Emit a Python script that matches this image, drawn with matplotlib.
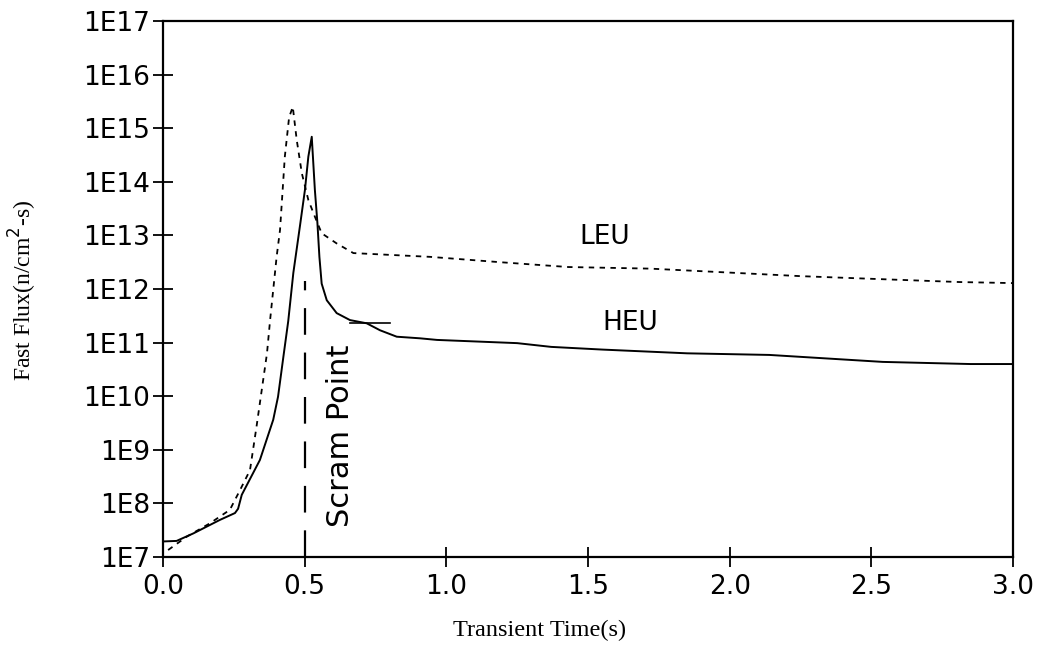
import matplotlib.pyplot as plt
import numpy as np

# LEU (dashed) curve: time (s), log10 flux
leu_t = [0.018, 0.084, 0.166, 0.236, 0.272, 0.307, 0.33, 0.367, 0.378, 0.401, 0.413,
         0.43, 0.445, 0.458, 0.472, 0.49, 0.513, 0.536, 0.56, 0.613, 0.672, 0.942,
         1.19, 1.43, 1.72, 2.25, 2.45, 2.81, 3.0]
leu_log = [7.13, 7.38, 7.63, 7.88, 8.25, 8.62, 9.43, 10.8, 11.42, 12.6, 13.1,
           14.47, 15.2, 15.4, 14.78, 14.16, 13.66, 13.35, 13.04, 12.85, 12.67, 12.6,
           12.5, 12.41, 12.38, 12.24, 12.2, 12.13, 12.11]

# HEU (solid) curve
heu_t = [0.0, 0.048, 0.107, 0.20, 0.254, 0.265, 0.278, 0.342, 0.389, 0.406, 0.425,
         0.442, 0.46, 0.484, 0.501, 0.513, 0.525, 0.536, 0.545, 0.552, 0.56, 0.578,
         0.613, 0.66, 0.719, 0.766, 0.825, 0.907, 0.967, 1.25, 1.37, 1.55, 1.85,
         2.14, 2.54, 2.85, 3.0]
heu_log = [7.29, 7.30, 7.44, 7.69, 7.82, 7.9, 8.16, 8.81, 9.56, 9.99, 10.74,
           11.4, 12.3, 13.2, 13.85, 14.47, 14.84, 13.85, 13.23, 12.6, 12.1, 11.79,
           11.55, 11.42, 11.36, 11.23, 11.11, 11.08, 11.05, 10.99, 10.92, 10.87, 10.8,
           10.77, 10.64, 10.6, 10.6]

# short pointer segment on the HEU curve
ptr_t = [0.66, 0.80]
ptr_log = [11.37, 11.37]

scram_t = 0.5
scram_top_log = 12.15

ytick_exp = list(range(7, 18))
xticks = [0.0, 0.5, 1.0, 1.5, 2.0, 2.5, 3.0]

fig = plt.figure(figsize=(10.45, 6.51), dpi=100)
ax = fig.add_axes([163 / 1045, 1 - 557 / 651, (1013 - 163) / 1045, (557 - 21) / 651])

ax.plot(leu_t, 10 ** np.array(leu_log), color='black', lw=1.3, linestyle=(0, (3, 3)))
ax.plot(heu_t, 10 ** np.array(heu_log), color='black', lw=1.4)
ax.plot(ptr_t, 10 ** np.array(ptr_log), color='black', lw=1.2)
ax.plot([scram_t, scram_t], [1e7, 10 ** scram_top_log], color='black', lw=1.6,
        linestyle=(0, (12, 8)))

ax.set_yscale('log')
ax.set_xlim(0, 3.0)
ax.set_ylim(1e7, 1e17)
ax.set_yticks([10.0 ** e for e in ytick_exp])
ax.set_yticklabels([f'1E{e}' for e in ytick_exp])
ax.yaxis.set_minor_locator(plt.NullLocator())
ax.set_xticks(xticks)
ax.set_xticklabels([f'{x:.1f}' for x in xticks])

ax.tick_params(axis='both', direction='inout', length=14, width=1.3,
               labelsize=19, top=False, right=False)
ax.tick_params(axis='y', pad=2)
ax.tick_params(axis='x', pad=5)
for s in ax.spines.values():
    s.set_linewidth(1.6)

ax.text(0.628, 10 ** 9.26, 'Scram Point', rotation=90, fontsize=22,
        ha='center', va='center')
ax.text(1.56, 10 ** 12.97, 'LEU', fontsize=19, ha='center', va='center')
ax.text(1.65, 10 ** 11.37, 'HEU', fontsize=19, ha='center', va='center')

ax.set_xlabel('Transient Time(s)', fontsize=17.5, family='Liberation Serif')
ax.set_ylabel('Fast Flux(n/cm$^2$-s)', fontsize=17, family='Liberation Serif')
ax.xaxis.set_label_coords(0.4435, -0.118)
ax.yaxis.set_label_coords(-0.146, 0.498)

fig.savefig('out.png', dpi=100)
